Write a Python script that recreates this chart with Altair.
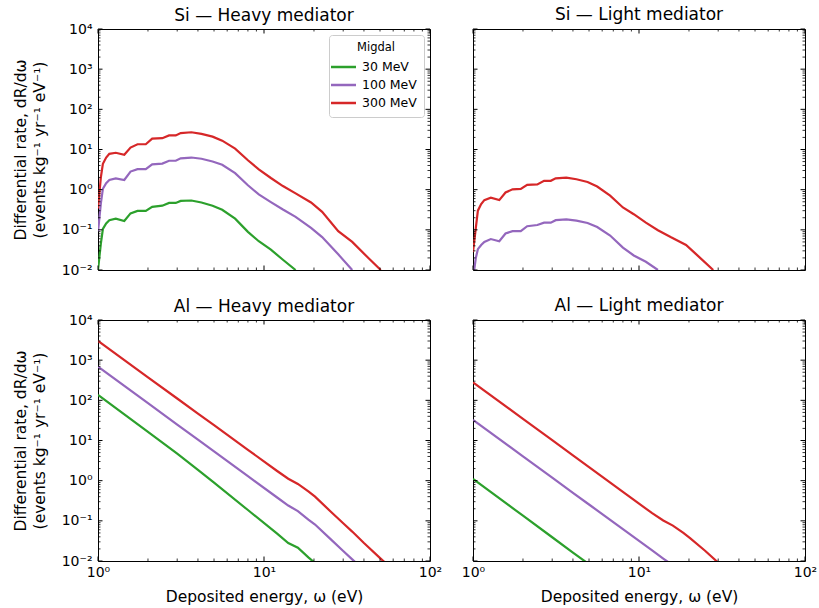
import altair as alt
import pandas as pd

# ---------------- data ----------------
masses = ["30 MeV", "100 MeV", "300 MeV"]
colors = ["#2ca02c", "#9467bd", "#d62728"]

si_energy = [1.00, 1.04, 1.07, 1.12, 1.17, 1.28, 1.44, 1.57, 1.73, 1.94,
             2.12, 2.44, 2.68, 2.94, 3.15, 3.65, 4.2, 4.9, 5.6, 6.7,
             8.0, 9.3, 11.0, 13.0, 15.5, 19.2, 22.4, 28.0, 34.0, 43.0, 50.5]

si_heavy_300 = [0.34, 2.0, 4.4, 6.3, 7.8, 8.3, 7.4, 11.2, 13.5, 13.5,
                18.6, 19.1, 22.4, 22.4, 25.7, 26.9, 24.5, 20.9, 16.6, 10.5,
                5.4, 3.2, 1.95, 1.23, 0.81, 0.48, 0.28, 0.093, 0.050, 0.019, 0.010]
si_heavy_100 = [0.089, 0.45, 1.05, 1.45, 1.74, 1.91, 1.74, 2.82, 3.24, 3.24,
                4.27, 4.47, 5.25, 5.25, 6.03, 6.31, 5.89, 5.01, 4.17, 2.57,
                1.29, 0.76, 0.49, 0.32, 0.21, 0.112, 0.066, 0.0245, 0.010]
si_heavy_30 = [0.010, 0.045, 0.105, 0.145, 0.174, 0.19, 0.166, 0.257, 0.295, 0.295,
               0.372, 0.40, 0.468, 0.468, 0.525, 0.537, 0.479, 0.398, 0.316, 0.19,
               0.089, 0.052, 0.032, 0.018, 0.010]

si_light_300 = [0.028, 0.112, 0.30, 0.44, 0.55, 0.63, 0.55, 0.85, 1.02, 1.05,
                1.32, 1.35, 1.66, 1.66, 1.91, 2.0, 1.82, 1.55, 1.20, 0.71,
                0.36, 0.245, 0.151, 0.098, 0.066, 0.042, 0.0234, 0.010]
si_light_100 = [0.006, 0.020, 0.033, 0.042, 0.050, 0.059, 0.052, 0.081, 0.093, 0.093,
                0.123, 0.132, 0.151, 0.151, 0.174, 0.182, 0.170, 0.148, 0.117, 0.072,
                0.036, 0.023, 0.016, 0.010]

al_energy = [1, 2, 3, 4, 5, 8, 12, 14, 16, 18.5, 20.3, 25, 30, 34, 40, 51, 55]

al_heavy_300 = [3000, 375, 111, 46.9, 24.0, 5.86, 1.74, 1.12, 0.83, 0.54, 0.40,
                0.176, 0.087, 0.054, 0.028, 0.011, 0.0083]
al_heavy_100 = [687, 85, 25, 10.5, 5.35, 1.30, 0.381, 0.24, 0.174, 0.107, 0.081,
                0.036, 0.0178, 0.011, 0.0059]
al_heavy_30 = [136, 16.5, 4.68, 1.86, 0.89, 0.186, 0.048, 0.028, 0.0214, 0.0123, 0.0089]

al_light_300 = [281, 34.7, 10.2, 4.27, 2.18, 0.527, 0.155, 0.102, 0.076, 0.050, 0.037,
                0.018, 0.0091]
al_light_100 = [32.4, 4.03, 1.19, 0.495, 0.255, 0.062, 0.0183, 0.0115, 0.0078]
al_light_30 = [1.10, 0.134, 0.039, 0.0162, 0.0083]

x_major = [1, 10, 100]
x_labels = ["10⁰", "10¹", "10²"]
y_major = [0.01, 0.1, 1, 10, 100, 1000, 10000]
y_labels = ["10⁻²", "10⁻¹", "10⁰", "10¹", "10²", "10³", "10⁴"]
x_minor = [2, 3, 4, 5, 6, 7, 8, 9, 20, 30, 40, 50, 60, 70, 80, 90]
y_minor = [k * d for d in [0.01, 0.1, 1, 10, 100, 1000] for k in range(2, 10)]


def make_df(energy, series):
    rows = []
    for mass, vals in series:
        for e, v in zip(energy, vals):
            rows.append({"energy": e, "rate": v, "mass": mass})
    return pd.DataFrame(rows)


W, H = 332, 241
MAJ, MIN = 4.5, 2.5

x_label_expr = "[" + ",".join("'%s'" % s for s in x_labels) + "][round(log(datum.value)/LN10)]"
y_label_expr = "[" + ",".join("'%s'" % s for s in y_labels) + "][round(log(datum.value)/LN10)+2]"


def panel(df, title, show_x, show_y, show_legend):
    xs = alt.Scale(type="log", domain=[1, 100], nice=False)
    ys = alt.Scale(type="log", domain=[0.01, 10000], nice=False)
    if show_x:
        xa = alt.Axis(values=x_major, labelExpr=x_label_expr,
                      title="Deposited energy, ω (eV)", ticks=False, domain=False,
                      grid=False, labelFlush=False, labelOverlap=False,
                      labelPadding=4, titlePadding=10)
    else:
        xa = None
    if show_y:
        ya = alt.Axis(values=y_major, labelExpr=y_label_expr,
                      title=["Differential rate, dR/dω", "(events kg⁻¹ yr⁻¹ eV⁻¹)"],
                      ticks=False, domain=False, grid=False, labelFlush=False,
                      labelOverlap=False, labelPadding=6, titlePadding=14,
                      titleLineHeight=19)
    else:
        ya = None

    def X(f):
        return alt.X(f, type="quantitative", scale=xs, axis=xa)

    def Y(f):
        return alt.Y(f, type="quantitative", scale=ys, axis=ya)

    if show_legend:
        leg = alt.Legend(title="Migdal", orient="top-right", offset=6,
                         fillColor="white", strokeColor="#cccccc", cornerRadius=3,
                         padding=7, titleAnchor="middle", titleAlign="center",
                         titleFontSize=11.5, titleFontWeight="normal",
                         titleColor="black", labelColor="black",
                         labelFontSize=12.5, symbolType="M-2,0H2", symbolSize=156,
                         symbolStrokeWidth=2.5, labelOffset=11, rowPadding=4,
                         titlePadding=6)
    else:
        leg = None

    lines = alt.Chart(df).mark_line(strokeWidth=2.2, clip=True).encode(
        x=X("energy"), y=Y("rate"),
        color=alt.Color("mass:N", scale=alt.Scale(domain=masses, range=colors),
                        legend=leg),
    )

    layers = [lines]
    for vals, ln, sw in [(x_major, MAJ, 1.0), (x_minor, MIN, 0.8)]:
        d = pd.DataFrame({"t": vals})
        layers.append(alt.Chart(d).mark_rule(color="black", strokeWidth=sw).encode(
            x=X("t"), y=alt.value(H), y2=alt.value(H - ln)))
        layers.append(alt.Chart(d).mark_rule(color="black", strokeWidth=sw).encode(
            x=X("t"), y=alt.value(0), y2=alt.value(ln)))
    for vals, ln, sw in [(y_major, MAJ, 1.0), (y_minor, MIN, 0.8)]:
        d = pd.DataFrame({"t": vals})
        layers.append(alt.Chart(d).mark_rule(color="black", strokeWidth=sw).encode(
            y=Y("t"), x=alt.value(0), x2=alt.value(ln)))
        layers.append(alt.Chart(d).mark_rule(color="black", strokeWidth=sw).encode(
            y=Y("t"), x=alt.value(W), x2=alt.value(W - ln)))

    return alt.layer(*layers).properties(
        width=W, height=H,
        title=alt.TitleParams(title, fontSize=17, fontWeight="normal", color="black",
                              offset=5, dy=(8 if show_y else 0),
                              frame="group", anchor="middle"),
    )


p1 = panel(make_df(si_energy, [("30 MeV", si_heavy_30), ("100 MeV", si_heavy_100),
                               ("300 MeV", si_heavy_300)]),
           "Si — Heavy mediator", False, True, True)
p2 = panel(make_df(si_energy, [("100 MeV", si_light_100), ("300 MeV", si_light_300)]),
           "Si — Light mediator", False, False, False)
p3 = panel(make_df(al_energy, [("30 MeV", al_heavy_30), ("100 MeV", al_heavy_100),
                               ("300 MeV", al_heavy_300)]),
           "Al — Heavy mediator", True, True, False)
p4 = panel(make_df(al_energy, [("30 MeV", al_light_30), ("100 MeV", al_light_100),
                               ("300 MeV", al_light_300)]),
           "Al — Light mediator", True, False, False)

chart = alt.concat(p1, p2, p3, p4, columns=2, bounds="flush",
                   spacing={"row": 50, "column": 43}).resolve_scale(
    color="independent").resolve_legend(color="independent").configure(
    font="DejaVu Sans", padding={"left": 12, "top": 5, "right": 0, "bottom": 0}
).configure_view(stroke="black", strokeWidth=1).configure_axis(
    labelFont="DejaVu Sans", labelFontSize=14, labelColor="black",
    titleFont="DejaVu Sans", titleFontSize=15.5, titleFontWeight="normal",
    titleColor="black")

chart.save("out.html", embed_options={"renderer": "svg", "actions": False})
